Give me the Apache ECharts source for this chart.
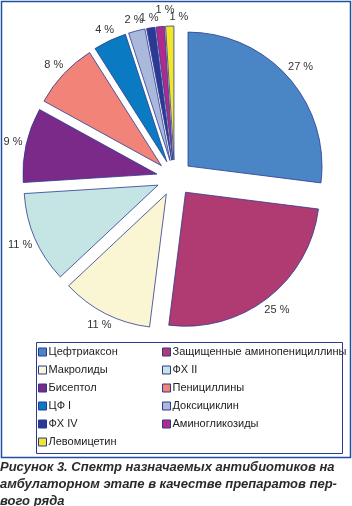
<!DOCTYPE html>
<html>
<head>
<meta charset="utf-8">
<script src="https://cdn.jsdelivr.net/npm/echarts@6/dist/echarts.min.js"></script>
<style>
  html, body { margin: 0; padding: 0; background: #fff; }
  #chart { width: 352px; height: 506px; }
</style>
</head>
<body>
<div id="chart"></div>
<script>
// категории и доли, % (по часовой стрелке от 12 часов)
var names = ['Цефтриаксон', 'Защищенные аминопенициллины', 'Макролиды', 'ФХ II', 'Бисептол',
  'Пенициллины', 'ЦФ I', 'Доксициклин', 'ФХ IV', 'Аминогликозиды', 'Левомицетин'];
var values = [27, 25, 11, 11, 9, 8, 4, 2, 1, 1, 1];
var colors = ['#4a86c6', '#b03a72', '#faf5d2', '#c5e4e4', '#7b2a8a', '#f28378',
  '#0a7bc2', '#aab8dc', '#2b3995', '#b02a8e', '#f2e52a'];
// порядок легенды: левая и правая колонки
var legendLeft = ['Цефтриаксон', 'Макролиды', 'Бисептол', 'ЦФ I', 'ФХ IV', 'Левомицетин'];
var legendRight = ['Защищенные аминопенициллины', 'ФХ II', 'Пенициллины', 'Доксициклин', 'Аминогликозиды'];
var caption = 'Рисунок 3. Спектр назначаемых антибиотиков на\nамбулаторном этапе в качестве препаратов пер-\nвого ряда';

var CX = 174.5, CY = 178, R = 134, OFFSET = 18, GAP = 3;

var chart = echarts.init(document.getElementById('chart'));

var total = values.reduce(function (a, b) { return a + b; }, 0);

// подписи как в Excel: по биссектрисе сектора, сразу за краем выдвинутого сектора
function placeLabel(params) {
  var i = params.dataIndex;
  var before = 0;
  for (var k = 0; k < i; k++) before += values[k];
  var mid = (before + values[i] / 2) / total * 2 * Math.PI;
  var ux = Math.sin(mid), uy = -Math.cos(mid);
  var w = params.labelRect.width, h = params.labelRect.height;
  var d = R + GAP + w / 2 * Math.abs(ux) + h / 2 * Math.abs(uy);
  // мелкие соседние сектора — подписи вразбежку
  var tiny = values[i] <= 1 && i > 0 && values[i - 1] <= 1;
  var shift = 0;
  if (tiny) {
    if (i + 1 < values.length && values[i + 1] <= 1) { d += 7; shift = w / 3; }
    else shift = w / 2;
  }
  return {
    x: CX + (OFFSET + d) * ux + shift,
    y: CY + (OFFSET + d) * uy,
    align: 'center',
    verticalAlign: 'middle'
  };
}

var legendBase = {
  orient: 'vertical',
  top: 345,
  padding: 0,
  icon: 'rect',
  itemWidth: 8,
  itemHeight: 8,
  itemGap: 4,
  selectedMode: false,
  itemStyle: { borderColor: '#2b3a8f', borderWidth: 1 },
  textStyle: { fontFamily: 'Liberation Sans', fontSize: 11, color: '#222', lineHeight: 14, padding: [0, 0, 0, -3] }
};

var option = {
  animation: false,
  title: {
    text: caption,
    left: 0,
    top: 459,
    padding: 0,
    textStyle: {
      fontFamily: 'Liberation Sans', fontSize: 13, fontWeight: 'bold', fontStyle: 'italic',
      color: '#2a2a2a', lineHeight: 17
    }
  },
  legend: [
    Object.assign({}, legendBase, { left: 38, data: legendLeft }),
    Object.assign({}, legendBase, { left: 162, data: legendRight })
  ],
  graphic: [
    { type: 'rect', shape: { x: 1.5, y: 1.5, width: 349, height: 456 },
      style: { fill: null, stroke: '#1f4f9e', lineWidth: 1.5 }, silent: true },
    { type: 'rect', shape: { x: 36.5, y: 342.5, width: 306, height: 111 },
      style: { fill: null, stroke: '#2b3a8f', lineWidth: 1 }, silent: true }
  ],
  series: [{
    // сам пирог, все сектора выдвинуты
    type: 'pie',
    center: [CX, CY],
    radius: [0, R],
    startAngle: 90,
    clockwise: true,
    selectedMode: 'multiple',
    selectedOffset: OFFSET,
    silent: true,
    itemStyle: { borderColor: '#2b3a8f', borderWidth: 0.8 },
    label: { show: false },
    labelLine: { show: false },
    emphasis: { disabled: true },
    data: names.map(function (n, i) {
      return { name: n, value: values[i], selected: true, itemStyle: { color: colors[i] } };
    })
  }, {
    // прозрачное кольцо только для подписей процентов
    type: 'pie',
    center: [CX, CY],
    radius: [R + OFFSET, R + OFFSET + 1],
    startAngle: 90,
    clockwise: true,
    silent: true,
    avoidLabelOverlap: false,
    itemStyle: { color: 'rgba(0,0,0,0)' },
    label: {
      show: true,
      position: 'inside',
      formatter: '{c} %',
      fontFamily: 'Liberation Sans',
      fontSize: 11,
      color: '#333'
    },
    labelLine: { show: false },
    labelLayout: placeLabel,
    emphasis: { disabled: true },
    data: names.map(function (n, i) { return { name: n, value: values[i] }; })
  }]
};
chart.setOption(option);
</script>
</body>
</html>
